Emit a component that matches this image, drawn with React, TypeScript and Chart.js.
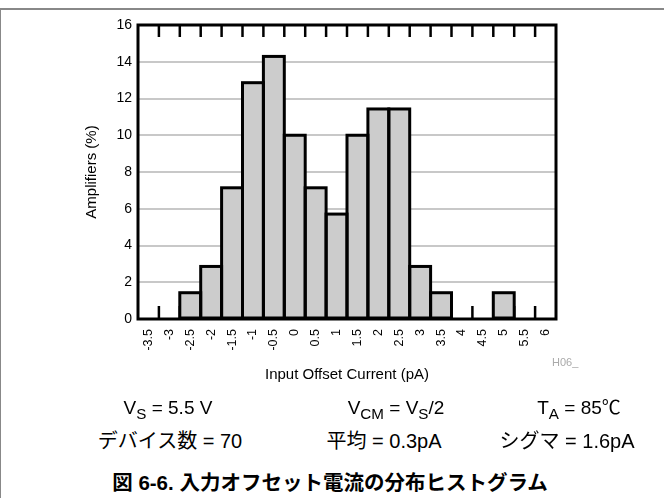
import React, { useEffect, useRef } from "react";
import { Chart, registerables } from "chart.js";

Chart.register(...registerables);

const categories = ["-3.5", "-3", "-2.5", "-2", "-1.5", "-1", "-0.5", "0", "0.5", "1", "1.5", "2", "2.5", "3", "3.5", "4", "4.5", "5", "5.5", "6"];
const amplifiersPct = [0, 0, 1.43, 2.86, 7.14, 12.86, 14.29, 10, 7.14, 5.71, 10, 11.43, 11.43, 2.86, 1.43, 0, 0, 1.43, 0, 0];
const yMin = 0;
const yMax = 16;
const yStep = 2;
const xTitle = "Input Offset Current (pA)";
const yTitle = "Amplifiers (%)";
const figureTitle = "図 6-6. 入力オフセット電流の分布ヒストグラム";

const FONT = "'Liberation Sans', Arial, 'Noto Sans CJK JP', sans-serif";

const framePlugin = {
  id: "framePlugin",
  beforeDatasetsDraw(chart: any) {
    const { ctx, chartArea: a, scales } = chart;
    const x = scales.x;
    ctx.save();
    ctx.strokeStyle = "#000";
    ctx.lineWidth = 2.5;
    for (let i = 1; i < categories.length; i++) {
      const px = (x.getPixelForTick(i - 1) + x.getPixelForTick(i)) / 2;
      ctx.beginPath();
      ctx.moveTo(px, a.bottom);
      ctx.lineTo(px, a.bottom - 13);
      ctx.stroke();
    }
    ctx.restore();
  },
  afterDatasetsDraw(chart: any) {
    const { ctx, chartArea: a, scales } = chart;
    const x = scales.x;
    ctx.save();
    ctx.strokeStyle = "#000";
    ctx.lineWidth = 3;
    const meta = chart.getDatasetMeta(0);
    meta.data.forEach((el: any, i: number) => {
      if (!amplifiersPct[i]) return;
      const p = el.getProps(["x", "y", "base", "width"], true);
      ctx.strokeRect(p.x - p.width / 2, p.y, p.width, p.base - p.y);
    });
    ctx.lineWidth = 2.5;
    for (let i = 1; i < categories.length; i++) {
      const px = (x.getPixelForTick(i - 1) + x.getPixelForTick(i)) / 2;
      ctx.beginPath();
      ctx.moveTo(px, a.top);
      ctx.lineTo(px, a.top + 12);
      ctx.stroke();
    }
    ctx.lineWidth = 3;
    ctx.strokeRect(a.left, a.top, a.right - a.left, a.bottom - a.top);
    ctx.restore();
  },
};

function HistogramChart() {
  const ref = useRef<HTMLCanvasElement | null>(null);
  useEffect(() => {
    if (!ref.current) return;
    const chart = new Chart(ref.current, {
      type: "bar",
      data: {
        labels: categories,
        datasets: [
          {
            data: amplifiersPct,
            backgroundColor: "#cccccc",
            borderWidth: 0,
            barPercentage: 1,
            categoryPercentage: 1,
          },
        ],
      },
      options: {
        animation: false,
        responsive: false,
        maintainAspectRatio: false,
        events: [],
        layout: { padding: { left: 83, right: 108, top: 25, bottom: 14 } },
        plugins: { legend: { display: false }, tooltip: { enabled: false } },
        scales: {
          x: {
            grid: { display: false, drawTicks: false },
            border: { display: false },
            ticks: {
              autoSkip: false,
              minRotation: 90,
              maxRotation: 90,
              padding: 10,
              color: "#000",
              font: { family: FONT, size: 12.5 },
            },
            title: { display: true, text: xTitle, color: "#000", padding: 0, font: { family: FONT, size: 15 } },
            afterFit(s: any) {
              s.height = 65;
            },
          },
          y: {
            min: yMin,
            max: yMax,
            grid: { color: "#c8c8c8", lineWidth: 2, drawTicks: false },
            border: { display: false },
            ticks: { stepSize: yStep, padding: 6, color: "#000", font: { family: FONT, size: 14 } },
            title: { display: true, text: yTitle, color: "#000", padding: 0, font: { family: FONT, size: 15 } },
            afterFit(s: any) {
              s.width = 55;
            },
          },
        },
      },
      plugins: [framePlugin],
    });
    return () => chart.destroy();
  }, []);
  return <canvas ref={ref} width={664} height={398} style={{ position: "absolute", left: 0, top: 0, width: 664, height: 398 }} />;
}

const sub = (t: string) => (
  <span style={{ fontSize: "0.8em", position: "relative", top: "0.3em" }}>{t}</span>
);

function Label({ cx, top, size, children, bold }: any) {
  return (
    <div
      style={{
        position: "absolute",
        left: cx,
        top,
        transform: "translateX(-50%)",
        whiteSpace: "nowrap",
        fontFamily: FONT,
        fontSize: size,
        lineHeight: 1,
        fontWeight: bold ? "bold" : "normal",
        color: "#000",
      }}
    >
      {children}
    </div>
  );
}

export default function App() {
  return (
    <div style={{ position: "absolute", left: 0, top: 0, width: 664, height: 498, background: "#fff", overflow: "hidden" }}>
      <div style={{ position: "absolute", left: 0, top: 8, width: 664, height: 490, borderTop: "2px solid #888", borderLeft: "1px solid #888", boxSizing: "border-box" }} />
      <HistogramChart />
      <div style={{ position: "absolute", left: 552, top: 356, fontFamily: FONT, fontSize: 11, color: "#aaa" }}>H06_</div>
      <Label cx={168} top={398} size={19}>V{sub("S")} = 5.5 V</Label>
      <Label cx={396} top={398} size={19}>V{sub("CM")} = V{sub("S")}/2</Label>
      <Label cx={579} top={398} size={19}>T{sub("A")} = 85℃</Label>
      <Label cx={170} top={431} size={20}>デバイス数 = 70</Label>
      <Label cx={384} top={431} size={20}>平均 = 0.3pA</Label>
      <Label cx={567} top={431} size={20}>シグマ = 1.6pA</Label>
      <Label cx={330} top={473} size={20.5} bold>{figureTitle}</Label>
    </div>
  );
}
